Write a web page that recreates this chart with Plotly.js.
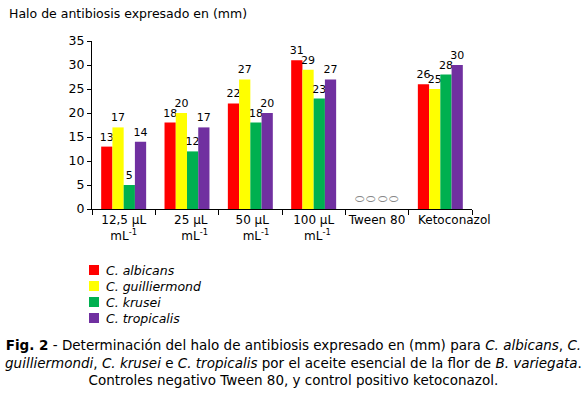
<!DOCTYPE html>
<html>
<head>
<meta charset="utf-8">
<script src="https://cdn.plot.ly/plotly-3.0.1.min.js"></script>
<style>html,body{margin:0;padding:0;background:#fff;}#chart{width:587px;height:395px;}</style>
</head>
<body>
<div id="chart"></div>
<script>
var categories = ["12,5 µL<br>mL<sup>-1</sup>", "25 µL<br>mL<sup>-1</sup>", "50 µL<br>mL<sup>-1</sup>", "100 µL<br>mL<sup>-1</sup>", "Tween 80", "Ketoconazol"];
var tickLabels = ["12,5 µL<br>mL<sup>-1</sup>", "\u00a0\u00a025 µL<br>\u00a0\u00a0\u00a0\u00a0mL<sup>-1</sup>", "\u00a050 µL<br>\u00a0\u00a0\u00a0mL<sup>-1</sup>", "100 µL<br>\u00a0\u00a0mL<sup>-1</sup>", "Tween 80", ""];
var seriesNames = ["C. albicans", "C. guilliermond", "C. krusei", "C. tropicalis"];
var albicans = [13, 18, 22, 31, 0, 26];
var guilliermond = [17, 20, 27, 29, 0, 25];
var krusei = [5, 12, 18, 23, 0, 28];
var tropicalis = [14, 17, 20, 27, 0, 30];
var colors = ["#ff0000", "#ffff00", "#00b050", "#7030a0"];

var allSeries = [albicans, guilliermond, krusei, tropicalis];
var traces = allSeries.map(function (vals, i) {
  return {
    type: "bar",
    name: seriesNames[i],
    x: categories,
    y: vals,
    marker: {color: colors[i], line: {width: 0}},
    text: vals.map(function (v) { return v === 0 ? "⬭" : String(v); }),
    textposition: "outside",
    constraintext: "none",
    cliponaxis: false,
    showlegend: false,
    textfont: {family: "DejaVu Sans, Verdana, sans-serif", size: 11,
      color: vals.map(function (v) { return v === 0 ? "#888888" : "#000000"; })},
    hoverinfo: "none"
  };
});

// plot-area pixel helpers (plot area: x 92..472, y 41..209)
function px(x) { return (x - 92) / 380; }
function py(y) { return (209 - y) / 168; }

var shapes = [];
var annotations = [
  {text: "Halo de antibiosis expresado en (mm)", xref: "paper", yref: "paper",
   x: -0.224, y: 1.161, xanchor: "left", yanchor: "middle", showarrow: false,
   font: {size: 12.5}},
  {text: categories[5], xref: "paper", yref: "paper", x: px(454),
   y: py(220), xanchor: "center", yanchor: "middle", showarrow: false,
   font: {size: 12}},
  {text: "<b>Fig. 2</b> - Determinación del halo de antibiosis expresado en (mm) para <i>C. albicans</i>, <i>C.</i><br><i>guilliermondi</i>, <i>C. krusei</i> e <i>C. tropicalis</i> por el aceite esencial de la flor de <i>B. variegata</i>.<br>Controles negativo Tween 80, y control positivo ketoconazol.",
   xref: "paper", yref: "paper", x: 0.53, y: -0.748, xanchor: "center", yanchor: "top",
   showarrow: false, align: "center", font: {size: 13.5}}
];
seriesNames.forEach(function (name, i) {
  var cy = 270 + i * 16;
  shapes.push({type: "rect", xref: "paper", yref: "paper",
    x0: px(89), x1: px(99), y0: py(cy - 5), y1: py(cy + 5),
    fillcolor: colors[i], line: {width: 0}});
  annotations.push({text: "<i>" + name + "</i>", xref: "paper", yref: "paper",
    x: px(104), y: py(cy), xanchor: "left", yanchor: "middle", showarrow: false,
    font: {size: 12.5}});
});

var layout = {
  width: 587, height: 395,
  margin: {l: 92, r: 115, t: 41, b: 186},
  paper_bgcolor: "#ffffff", plot_bgcolor: "#ffffff",
  font: {family: "DejaVu Sans, Verdana, sans-serif", size: 12, color: "#000"},
  barmode: "group", bargap: 0.29, bargroupgap: 0,
  showlegend: false,
  xaxis: {type: "category", range: [-0.5, 5.5], showline: true, linecolor: "#000", linewidth: 1,
    ticks: "outside", tickson: "boundaries", ticklen: 5, tickcolor: "#000",
    tickvals: categories, ticktext: tickLabels,
    tickangle: 0, showgrid: false, zeroline: false, tickfont: {size: 12}},
  yaxis: {range: [0, 35], dtick: 5, showline: true, linecolor: "#000", linewidth: 1,
    ticks: "outside", ticklen: 4, tickcolor: "#000", showgrid: false, zeroline: false,
    tickfont: {size: 12.5}},
  shapes: shapes,
  annotations: annotations
};

Plotly.newPlot("chart", traces, layout, {staticPlot: true, displayModeBar: false});
</script>
</body>
</html>
